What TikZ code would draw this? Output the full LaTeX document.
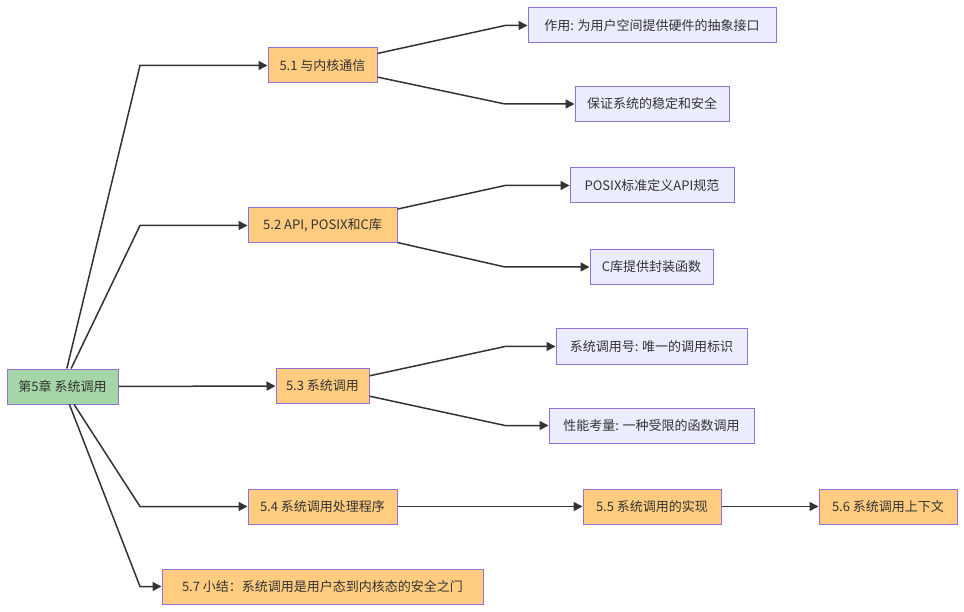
\documentclass[tikz,border=0pt]{standalone}
\usepackage{fontspec}
\setmainfont{Noto Sans CJK SC}
\usetikzlibrary{arrows.meta}
\definecolor{edgec}{HTML}{333333}
\definecolor{bordc}{HTML}{9370DB}
\definecolor{rootc}{HTML}{A5D6A7}
\definecolor{secc}{HTML}{FFCC80}
\definecolor{leafc}{HTML}{ECECFF}
\tikzset{
  box/.style={draw=bordc, line width=1pt, minimum height=35pt, inner sep=0pt, text=edgec, font=\fontsize{13pt}{15pt}\selectfont, anchor=center},
  rootbox/.style={box, fill=rootc},
  secbox/.style={box, fill=secc},
  leafbox/.style={box, fill=leafc},
  conn/.style={draw=edgec, line width=1.5pt, -{Triangle[length=9pt,width=9pt]}},
}
\begin{document}
\begin{tikzpicture}[x=1pt,y=-1pt]
\useasboundingbox (0,0) rectangle (964,612);
\node[rootbox, minimum width=111pt] (root) at (62.5,386.5) {第5章 系统调用};
\node[secbox, minimum width=109pt] (s1) at (322.5,65.5) {5.1 与内核通信};
\node[secbox, minimum width=149pt] (s2) at (322.5,225.5) {5.2 API, POSIX和C库};
\node[secbox, minimum width=93pt] (s3) at (322.5,386) {5.3 系统调用};
\node[secbox, minimum width=149pt] (s4) at (322.5,506.5) {5.4 系统调用处理程序};
\node[secbox, minimum width=138pt] (s5) at (652,506.5) {5.5 系统调用的实现};
\node[secbox, minimum width=138pt] (s6) at (888,506.5) {5.6 系统调用上下文};
\node[secbox, minimum width=321pt] (s7) at (322.5,586.5) {5.7 小结：系统调用是用户态到内核态的安全之门};
\node[leafbox, minimum width=248pt] (l1) at (652,25.5) {作用: 为用户空间提供硬件的抽象接口};
\node[leafbox, minimum width=154pt] (l2) at (652,104) {保证系统的稳定和安全};
\node[leafbox, minimum width=164pt] (l3) at (652,185.5) {POSIX标准定义API规范};
\node[leafbox, minimum width=123pt] (l4) at (651.5,267) {C库提供封装函数};
\node[leafbox, minimum width=191pt] (l5) at (651.5,346.5) {系统调用号: 唯一的调用标识};
\node[leafbox, minimum width=205pt] (l6) at (651.5,425.5) {性能考量: 一种受限的函数调用};
\coordinate (r1) at (140,65.5);
\coordinate (r2) at (140,225.5);
\coordinate (r4) at (140,506.5);
\coordinate (r7) at (140,586.5);
\coordinate (a1) at (505,25.5);
\coordinate (a2) at (505,104);
\coordinate (a3) at (505,185.5);
\coordinate (a4) at (505,267);
\coordinate (a5) at (505,346.5);
\coordinate (a6) at (505,425.5);
\draw[conn] (root) -- (r1) -- (s1);
\draw[conn] (root) -- (r2) -- (s2);
\draw[conn] (root) -- (s3);
\draw[conn] (root) -- (r4) -- (s4);
\draw[conn] (root) -- (r7) -- (s7);
\draw[conn] (s1) -- (a1) -- (l1);
\draw[conn] (s1) -- (a2) -- (l2);
\draw[conn] (s2) -- (a3) -- (l3);
\draw[conn] (s2) -- (a4) -- (l4);
\draw[conn] (s3) -- (a5) -- (l5);
\draw[conn] (s3) -- (a6) -- (l6);
\draw[conn] (s4) -- (s5);
\draw[conn] (s5) -- (s6);
\end{tikzpicture}
\end{document}
